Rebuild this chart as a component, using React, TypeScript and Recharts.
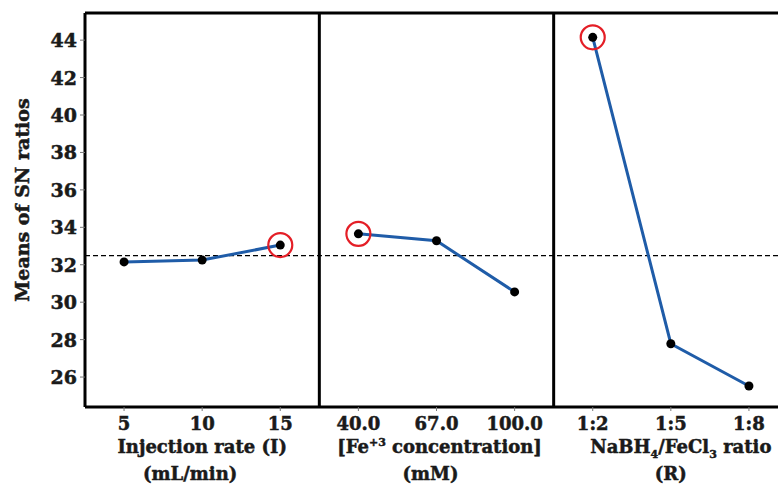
import React from 'react';
import { LineChart, Line, XAxis, YAxis, ReferenceLine } from 'recharts';

const FACTOR1_LEVELS = ['5', '10', '15'];
const FACTOR1_SN = [32.15, 32.25, 33.05];
const FACTOR2_LEVELS = ['40.0', '67.0', '100.0'];
const FACTOR2_SN = [33.65, 33.28, 30.55];
const FACTOR3_LEVELS = ['1:2', '1:5', '1:8'];
const FACTOR3_SN = [44.15, 27.78, 25.52];
const Y_TICKS = [26, 28, 30, 32, 34, 36, 38, 40, 42, 44];
const Y_DOMAIN = [24.4, 45.45];

const FONT = '"DejaVu Serif", serif';
const BLUE = '#1f5ca8';
const RED = '#e41e26';

const ALL_LEVELS = [...FACTOR1_LEVELS, ...FACTOR2_LEVELS, ...FACTOR3_LEVELS];
const ALL_SN = [...FACTOR1_SN, ...FACTOR2_SN, ...FACTOR3_SN];
const GRAND_MEAN = ALL_SN.reduce((a, b) => a + b, 0) / ALL_SN.length;

const build = (levels: string[], values: number[], offset: number) =>
  levels.map((l, i) => ({ x: offset + i + 0.5, y: values[i], label: l }));

const series = [
  { data: build(FACTOR1_LEVELS, FACTOR1_SN, 0), values: FACTOR1_SN },
  { data: build(FACTOR2_LEVELS, FACTOR2_SN, 3), values: FACTOR2_SN },
  { data: build(FACTOR3_LEVELS, FACTOR3_SN, 6), values: FACTOR3_SN },
];

const X_TICKS = ALL_LEVELS.map((_, i) => i + 0.5);

const makeDot = (values: number[]) => {
  const hi = values.indexOf(Math.max(...values));
  return (props: any) => {
    const { cx, cy, index } = props;
    return (
      <g key={`d-${index}`}>
        <circle cx={cx} cy={cy} r={4.5} fill="#000" />
        {index === hi && (
          <circle cx={cx} cy={cy} r={12} fill="none" stroke={RED} strokeWidth={2.2} />
        )}
      </g>
    );
  };
};

const textStyle = { fontFamily: FONT, fontWeight: 700, fill: '#1a1a1a', stroke: '#1a1a1a', strokeWidth: 0.5 } as const;

const XTick = (props: any) => {
  const { x, y, payload, index } = props;
  const label = ALL_LEVELS[index] ?? '';
  let title: React.ReactNode = null;
  if (index === 1) {
    title = (
      <>
        <text x={x} y={y + 40} textAnchor="middle" fontSize={18} style={textStyle}>Injection rate (I)</text>
        <text x={x - 12} y={y + 67} textAnchor="middle" fontSize={18} style={textStyle}>(mL/min)</text>
      </>
    );
  } else if (index === 4) {
    title = (
      <>
        <text x={x + 3} y={y + 40} textAnchor="middle" fontSize={18} style={textStyle}>
          [Fe<tspan fontSize={11} dy={-7}>+3</tspan><tspan dy={7}> concentration]</tspan>
        </text>
        <text x={x - 6} y={y + 67} textAnchor="middle" fontSize={18} style={textStyle}>(mM)</text>
      </>
    );
  } else if (index === 7) {
    title = (
      <>
        <text x={x + 10} y={y + 40} textAnchor="middle" fontSize={18} style={textStyle}>
          NaBH<tspan fontSize={11} dy={5}>4</tspan><tspan dy={-5}>/FeCl</tspan><tspan fontSize={11} dy={5}>3</tspan><tspan dy={-5}> ratio</tspan>
        </text>
        <text x={x} y={y + 67} textAnchor="middle" fontSize={18} style={textStyle}>(R)</text>
      </>
    );
  }
  return (
    <g key={`t-${payload?.value}`}>
      <text x={x} y={y + 17} textAnchor="middle" fontSize={18} style={textStyle}>{label}</text>
      {title}
    </g>
  );
};

const YTick = (props: any) => {
  const { x, y, payload } = props;
  return (
    <text x={x} y={y} dy={7} textAnchor="end" fontSize={19} style={textStyle}>{payload?.value}</text>
  );
};

const YLabel = (props: any) => {
  const vb = props.viewBox || {};
  const cx = 22;
  const cy = (vb.y ?? 13) + (vb.height ?? 394) / 2 - 10;
  return (
    <text
      x={cx}
      y={cy}
      transform={`rotate(-90, ${cx}, ${cy})`}
      textAnchor="middle"
      dominantBaseline="central"
      fontSize={19}
      style={textStyle}
    >
      Means of SN ratios
    </text>
  );
};

export default function App() {
  return (
    <div style={{ position: 'absolute', left: 0, top: 0, width: 778, height: 485, overflow: 'hidden', background: '#fff' }}>
      <LineChart width={800} height={485} margin={{ top: 13, right: 12, bottom: 0, left: 0 }}>
        <XAxis
          type="number"
          dataKey="x"
          domain={[0, 9]}
          ticks={X_TICKS}
          interval={0}
          height={78}
          axisLine={{ stroke: '#000', strokeWidth: 3 }}
          tickLine={{ stroke: '#777', strokeWidth: 1 }}
          tickSize={4}
          tick={<XTick />}
          allowDataOverflow
        />
        <YAxis
          type="number"
          domain={Y_DOMAIN}
          ticks={Y_TICKS}
          width={85}
          axisLine={{ stroke: '#000', strokeWidth: 3 }}
          tickLine={{ stroke: '#777', strokeWidth: 1 }}
          tickSize={5}
          tickMargin={3}
          tick={<YTick />}
          label={<YLabel />}
          allowDataOverflow
        />
        <ReferenceLine y={Y_DOMAIN[1]} stroke="#000" strokeWidth={3} />
        <ReferenceLine x={3} stroke="#000" strokeWidth={3} />
        <ReferenceLine x={6} stroke="#000" strokeWidth={3} />
        <ReferenceLine y={GRAND_MEAN} stroke="#000" strokeWidth={1.3} strokeDasharray="5 3" />
        {series.map((s, i) => (
          <Line
            key={i}
            data={s.data}
            dataKey="y"
            type="linear"
            stroke={BLUE}
            strokeWidth={3}
            dot={makeDot(s.values)}
            activeDot={false}
            isAnimationActive={false}
          />
        ))}
      </LineChart>
    </div>
  );
}
